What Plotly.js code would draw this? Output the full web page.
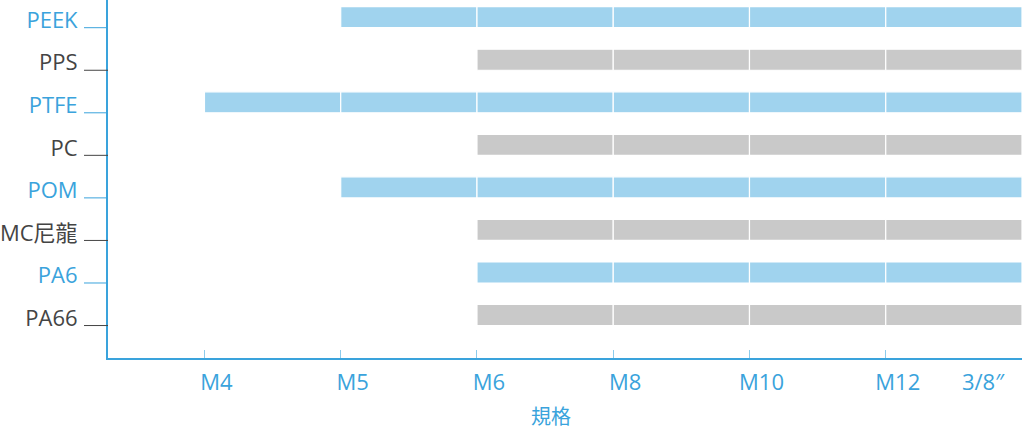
<!DOCTYPE html>
<html>
<head>
<meta charset="utf-8">
<script src="https://cdn.plot.ly/plotly-3.0.1.min.js"></script>
<style>html,body{margin:0;padding:0;background:#fff;}#chart{width:1024px;height:432px;}</style>
</head>
<body>
<div id="chart"></div>
<script>
// ---- data ----
const materials = ['PEEK', 'PPS', 'PTFE', 'PC', 'POM', 'MC尼龍', 'PA6', 'PA66'];
const sizes = ['M4', 'M5', 'M6', 'M8', 'M10', 'M12', '3/8″'];
const startSize = ['M5', 'M6', 'M4', 'M6', 'M5', 'M6', 'M6', 'M6'];
const endSize = ['3/8″', '3/8″', '3/8″', '3/8″', '3/8″', '3/8″', '3/8″', '3/8″'];
const rowTone = ['blue', 'gray', 'blue', 'gray', 'blue', 'gray', 'blue', 'gray'];
const xTitle = '規格';

// ---- style ----
const FONT = 'Open Sans, Noto Sans CJK TC, sans-serif';
const BLUE_TEXT = '#3aa3dc';
const GRAY_TEXT = '#444444';
const BAR = {blue: '#a0d3ee', gray: '#c9c9c9'};
const TEXT = {blue: BLUE_TEXT, gray: GRAY_TEXT};
const BAR_W = 0.494;
const PLOT_W = 914;
const X_STEP_PX = 136.25;
const labelShiftPx = sizes.map((s, i) => i === sizes.length - 1 ? -39 : 12);

const segs = {blue: {x: [], y: [], base: []}, gray: {x: [], y: [], base: []}};
materials.forEach((m, r) => {
  const s = sizes.indexOf(startSize[r]);
  const e = sizes.indexOf(endSize[r]);
  for (let k = s; k < e; k++) {
    segs[rowTone[r]].x.push(1);
    segs[rowTone[r]].y.push(m);
    segs[rowTone[r]].base.push(k);
  }
});

const traces = ['blue', 'gray'].map(t => ({
  type: 'bar', orientation: 'h',
  x: segs[t].x, y: segs[t].y, base: segs[t].base,
  width: BAR_W,
  marker: {color: BAR[t], line: {color: '#ffffff', width: 1.2}},
  hoverinfo: 'skip', showlegend: false
}));
// tick-mark carrier on overlaid axis
traces.push({type: 'scatter', x: [0], y: [materials[0]], xaxis: 'x2', mode: 'markers',
  marker: {opacity: 0}, hoverinfo: 'skip', showlegend: false});

const shapes = materials.map((m, r) => ({
  type: 'line', xref: 'paper', yref: 'y',
  x0: -24 / PLOT_W, x1: 0, y0: r + BAR_W / 2, y1: r + BAR_W / 2,
  line: {color: TEXT[rowTone[r]], width: 1}
}));

const layout = {
  width: 1024, height: 432,
  margin: {l: 108, r: 2, t: 0, b: 74},
  paper_bgcolor: '#fff', plot_bgcolor: '#fff',
  barmode: 'overlay',
  font: {family: FONT, size: 22, color: GRAY_TEXT},
  xaxis: {
    range: [-0.708, 6], showgrid: false, zeroline: false,
    showline: true, linecolor: BLUE_TEXT, linewidth: 2,
    tickmode: 'array',
    tickvals: sizes.map((s, i) => i + labelShiftPx[i] / X_STEP_PX),
    ticktext: sizes,
    ticks: '', ticklabelstandoff: 4,
    tickfont: {family: FONT, size: 22, color: BLUE_TEXT},
    fixedrange: true
  },
  xaxis2: {
    overlaying: 'x', side: 'bottom', range: [-0.708, 6],
    showgrid: false, zeroline: false, showline: false,
    tickmode: 'array', tickvals: sizes.map((s, i) => i),
    showticklabels: false, ticks: 'inside', ticklen: 8, tickwidth: 1, tickcolor: '#8ccbec'
  },
  yaxis: {
    type: 'category', categoryorder: 'array', categoryarray: materials,
    range: [8.01, -0.404], showgrid: false, zeroline: false,
    showline: true, linecolor: BLUE_TEXT, linewidth: 2,
    tickmode: 'array', tickvals: materials,
    ticktext: materials.map((m, r) => '<span style="color:' + TEXT[rowTone[r]] + '">' + m + '</span>'),
    ticks: '', ticklabelstandoff: 24, ticklabelshift: -3,
    tickfont: {family: FONT, size: 22},
    fixedrange: true
  },
  shapes: shapes,
  annotations: [{
    text: xTitle, xref: 'paper', yref: 'paper', x: (551 - 108) / PLOT_W, y: -(417 - 358) / 358,
    xanchor: 'center', yanchor: 'middle', showarrow: false,
    font: {family: FONT, size: 20, color: BLUE_TEXT}
  }]
};

Plotly.newPlot('chart', traces, layout, {displayModeBar: false, staticPlot: true});
</script>
</body>
</html>
